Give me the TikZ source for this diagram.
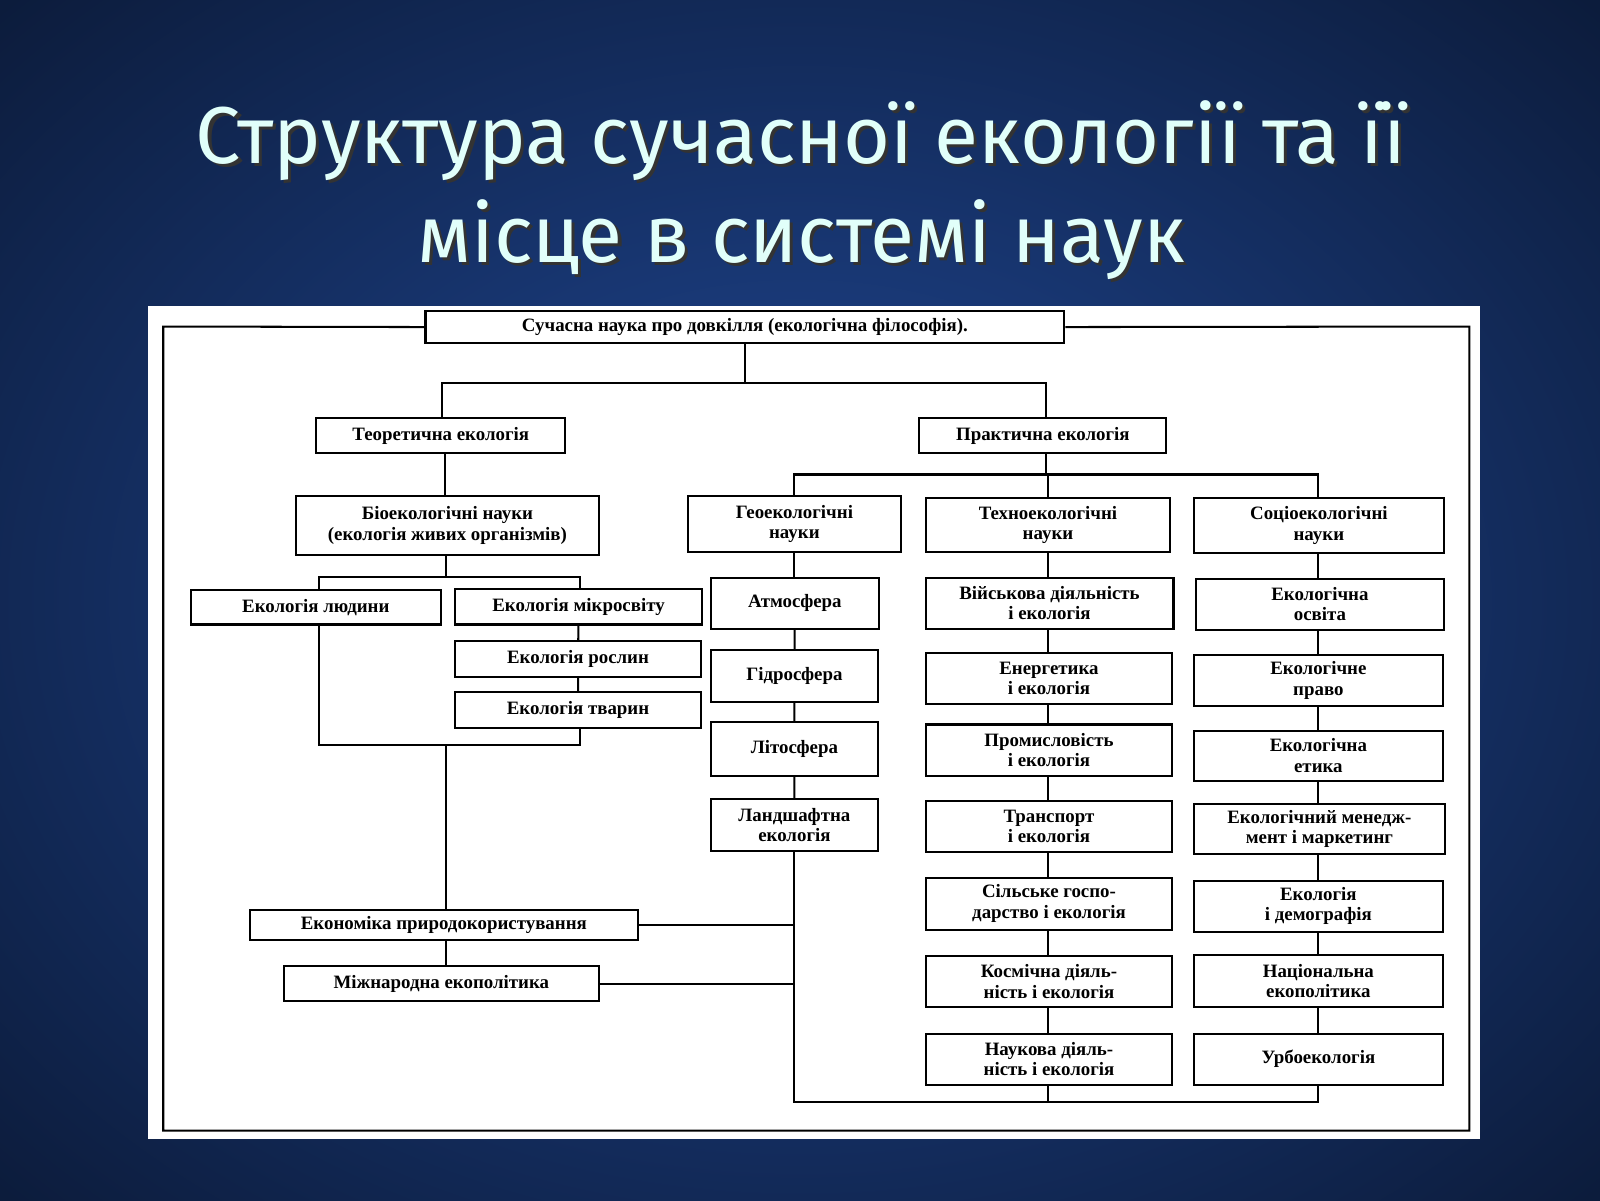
\documentclass[tikz,border=0pt]{standalone}
\usepackage{fontspec}
\setmainfont{Liberation Serif}
\newfontfamily\titlefont{Fira Sans}
\definecolor{bgmid}{RGB}{32,72,150}
\definecolor{bgedge}{RGB}{12,28,60}
\definecolor{titlec}{RGB}{225,255,250}
\begin{document}
\begin{tikzpicture}[x=1pt,y=-1pt,
  bx/.style={draw=black,line width=2pt,fill=white,inner sep=0pt,align=center,
    font=\fontsize{18.5}{20}\selectfont\bfseries},
  ln/.style={draw=black,line width=2pt}]
\useasboundingbox (0,0) rectangle (1568,1176);
\begin{scope}
\clip (0,0) rectangle (1568,1176);
\fill[bgedge] (0,0) rectangle (1568,1176);
\shade[inner color=bgmid, outer color=bgedge] (-300,-250) rectangle (1868,1426);
\end{scope}
\foreach \t/\yy in {{Структура сучасної екології та її}/138,{місце в системі наук}/235}{
  \node[text=black!80,font=\titlefont\fontsize{79}{84}\selectfont] at (788,\yy+3) {\t};
  \node[text=titlec,font=\titlefont\fontsize{79}{84}\selectfont] at (785,\yy) {\t};
}
\fill[white] (145,300) rectangle (1450,1116);
\newcommand\bx[6]{\node[bx,minimum width={#4-#2},minimum height={#5-#3}] (#1) at ({(#2+#4)/2},{(#3+#5)/2}) {#6};}
\bx{top}{417}{305}{1043}{336}{Сучасна наука про довкілля (екологічна філософія).}
\bx{teor}{310}{410}{554}{444}{Теоретична екологія}
\bx{prak}{901}{410}{1143}{444}{Практична екологія}
\bx{bio}{290}{486}{587}{544}{Біоекологічні науки\\(екологія живих організмів)}
\bx{geo}{674}{486}{883}{541}{Геоекологічні\\науки}
\bx{tech}{907}{488}{1147}{541}{Техноекологічні\\науки}
\bx{soc}{1170}{488}{1415}{542}{Соціоекологічні\\науки}
\bx{lud}{187}{578}{432}{612}{Екологія людини}
\bx{mik}{446}{577}{688}{612}{Екологія мікросвіту}
\bx{ros}{446}{628}{687}{663}{Екологія рослин}
\bx{tva}{446}{678}{687}{713}{Екологія тварин}
\bx{atm}{697}{566}{861}{616}{Атмосфера}
\bx{gid}{697}{637}{860}{688}{Гідросфера}
\bx{lit}{697}{708}{860}{760}{Літосфера}
\bx{lan}{697}{783}{860}{834}{Ландшафтна\\екологія}
\bx{t1}{907}{566}{1150}{616}{Військова діяльність\\і екологія}
\bx{t2}{907}{640}{1149}{690}{Енергетика\\і екологія}
\bx{t3}{907}{710}{1149}{760}{Промисловість\\і екологія}
\bx{t4}{907}{785}{1149}{835}{Транспорт\\і екологія}
\bx{t5}{907}{860}{1149}{911}{Сільське госпо-\\дарство і екологія}
\bx{t6}{907}{937}{1149}{987}{Космічна діяль-\\ність і екологія}
\bx{t7}{907}{1013}{1149}{1063}{Наукова діяль-\\ність і екологія}
\bx{s1}{1172}{567}{1415}{617}{Екологічна\\освіта}
\bx{s2}{1170}{642}{1414}{692}{Екологічне\\право}
\bx{s3}{1170}{716}{1414}{765}{Екологічна\\етика}
\bx{s4}{1170}{788}{1416}{837}{Екологічний менедж-\\мент і маркетинг}
\bx{s5}{1170}{863}{1414}{913}{Екологія\\і демографія}
\bx{s6}{1170}{936}{1414}{987}{Національна\\екополітика}
\bx{s7}{1170}{1013}{1414}{1063}{Урбоекологія}
\bx{eko}{245}{892}{625}{921}{Економіка природокористування}
\bx{miz}{278}{947}{587}{981}{Міжнародна екополітика}
% frame
\draw[ln] (top.west) -- (160,320) -- (160,1108) -- (1440,1108) -- (1440,320) -- (top.east);
\draw[ln] (top.south) -- (730,375);
\draw[ln] (433,410) -- (433,375) -- (1025,375) -- (1025,410);
\draw[ln] (436,444) -- (436,486);
\draw[ln] (437,544) -- (437,565);
\draw[ln] (313,578) -- (313,565) -- (568,565) -- (568,577);
\draw[ln] (mik) -- (ros) -- (tva);
\draw[ln] (568,713) -- (568,730) -- (313,730) -- (313,612);
\draw[ln] (437,730) -- (437,892);
\draw[ln] (437,921) -- (437,947);
% practical
\draw[ln] (1025,444) -- (1025,465);
\draw[ln] (778,486) -- (778,465) -- (1292,465) -- (1292,488);
\draw[ln] (1027,465) -- (1027,488);
\draw[ln] (778,541) -- (778,566);
\draw[ln] (atm) -- (gid) -- (lit) -- (lan);
\draw[ln] (778,834) -- (778,1080) -- (1292,1080) -- (1292,1063);
\draw[ln] (1027,1063) -- (1027,1080);
\draw[ln] (1027,541) -- (1027,566);
\draw[ln] (1027,616) -- (1027,640) (1027,690) -- (1027,710) (1027,760) -- (1027,785)
  (1027,835) -- (1027,860) (1027,911) -- (1027,937) (1027,987) -- (1027,1013);
\draw[ln] (1292,542) -- (1292,567) (1292,617) -- (1292,642) (1292,692) -- (1292,716)
  (1292,765) -- (1292,788) (1292,837) -- (1292,863) (1292,913) -- (1292,936) (1292,987) -- (1292,1013);
\draw[ln] (eko.east) -- (778,906.5);
\draw[ln] (miz.east) -- (778,964);
\end{tikzpicture}
\end{document}
